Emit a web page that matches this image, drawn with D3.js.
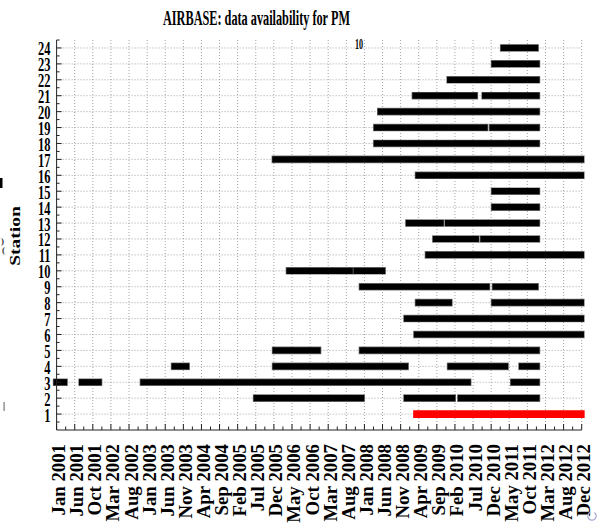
<!DOCTYPE html>
<html><head><meta charset="utf-8">
<script src="https://cdn.jsdelivr.net/npm/d3@7"></script>
<style>body{margin:0;background:#fff}svg{display:block}</style>
</head><body><svg id="c" width="599" height="530"></svg>
<script>
const titleText = "AIRBASE: data availability for PM";
const titleSub = "10";
const yLabelText = "Station";
const stations = [1,2,3,4,5,6,7,8,9,10,11,12,13,14,15,16,17,18,19,20,21,22,23,24];
const xTickLabels = ["Jan 2001","Jun 2001","Oct 2001","Mar 2002","Aug 2002","Jan 2003","Jun 2003","Nov 2003",
  "Apr 2004","Sep 2004","Feb 2005","Jul 2005","Dec 2005","May 2006","Oct 2006","Mar 2007","Aug 2007",
  "Jan 2008","Jun 2008","Nov 2008","Apr 2009","Sep 2009","Feb 2010","Jul 2010","Dec 2010","May 2011",
  "Oct 2011","Mar 2012","Aug 2012","Dec 2012"];
const xTickSpan = ["2001-01-01","2013-01-01"];
const highlightStation = 1;
// [station, first day, last day]
const availability = [
  [24,"2011-03-22","2011-12-09"],
  [23,"2011-01-05","2011-12-20"],
  [22,"2009-12-30","2011-12-20"],
  [21,"2009-03-15","2010-07-20"],
  [21,"2010-10-18","2011-12-20"],
  [20,"2008-05-30","2011-12-20"],
  [19,"2008-04-27","2010-10-13"],
  [19,"2010-12-19","2011-12-20"],
  [18,"2008-04-27","2011-12-20"],
  [17,"2006-01-01","2012-12-25"],
  [16,"2009-04-10","2012-12-25"],
  [15,"2011-01-05","2011-12-20"],
  [14,"2011-01-05","2011-12-20"],
  [13,"2009-01-20","2009-10-11"],
  [13,"2009-12-13","2011-12-20"],
  [12,"2009-09-02","2010-08-01"],
  [12,"2010-10-04","2011-12-20"],
  [11,"2009-07-02","2012-12-25"],
  [10,"2006-04-29","2007-09-15"],
  [10,"2007-11-10","2008-06-10"],
  [9,"2007-12-29","2010-10-29"],
  [9,"2011-01-13","2011-12-09"],
  [8,"2009-04-10","2009-12-19"],
  [8,"2011-01-05","2012-12-25"],
  [7,"2009-01-04","2012-12-25"],
  [6,"2009-03-28","2012-12-25"],
  [5,"2006-01-03","2006-12-19"],
  [5,"2007-12-29","2011-12-20"],
  [4,"2003-09-13","2003-12-18"],
  [4,"2006-01-03","2008-12-19"],
  [4,"2010-01-03","2011-04-02"],
  [4,"2011-08-22","2011-12-20"],
  [3,"2001-01-01","2001-03-04"],
  [3,"2001-08-02","2001-12-17"],
  [3,"2002-12-27","2010-05-25"],
  [3,"2011-06-14","2011-12-20"],
  [2,"2005-07-29","2007-12-18"],
  [2,"2009-01-04","2010-01-16"],
  [2,"2010-03-30","2011-12-20"],
  [1,"2009-03-28","2012-12-25"]
];

const parse = d3.utcParse("%Y-%m-%d");
const svg = d3.select("#c");
const font = "'Liberation Serif','Times New Roman',serif";
const L = 56.6, R = 581.7, T = 40, B = 430;

const t0 = parse(xTickSpan[0]), t1 = parse(xTickSpan[1]);
const x = d3.scaleUtc().domain([t0, t1]).range([L, R]);
const y = d3.scaleLinear().domain([0, 24.5]).range([B, T]);

const n = xTickLabels.length;
const tickDates = xTickLabels.map((_, k) => new Date(+t0 + k * (t1 - t0) / (n - 1)));
const minorDates = tickDates.slice(0, -1).map((d, k) => new Date((+d + +tickDates[k + 1]) / 2));

// fit a text element horizontally to a target width (condensed look of the original)
function squeeze(sel, tx, ty, width) {
  const w = sel.node().getComputedTextLength();
  sel.attr("transform", `translate(${tx},${ty}) scale(${width / w},1)`);
}

// grid
const g = svg.append("g");
g.selectAll("line.hg").data(stations).join("line")
  .attr("x1", L).attr("x2", R).attr("y1", d => y(d)).attr("y2", d => y(d))
  .attr("stroke", "#8a8a8a").attr("stroke-width", 0.8).attr("stroke-dasharray", "1 2");
g.selectAll("line.vg").data(tickDates.slice(1)).join("line")
  .attr("x1", d => x(d)).attr("x2", d => x(d)).attr("y1", T).attr("y2", B)
  .attr("stroke", "#8a8a8a").attr("stroke-width", 0.8).attr("stroke-dasharray", "1 2");

// bars
const bars = svg.append("g");
availability.forEach(([s, a, b]) => {
  const col = s === highlightStation ? "#ff0000" : "#000";
  const edge = s === highlightStation ? "#ff0000" : "#777";
  const x1 = x(parse(a)), x2 = x(parse(b)), yy = y(s);
  bars.append("line").attr("x1", x1).attr("x2", x2).attr("y1", yy).attr("y2", yy)
    .attr("stroke", edge).attr("stroke-width", 7.6).attr("stroke-linecap", "square");
  bars.append("line").attr("x1", x1).attr("x2", x2).attr("y1", yy).attr("y2", yy)
    .attr("stroke", col).attr("stroke-width", 6.2).attr("stroke-linecap", "square");
});

// axes
const ax = svg.append("g").attr("stroke", "#222").attr("stroke-width", 1);
ax.append("line").attr("x1", L).attr("x2", L).attr("y1", T).attr("y2", B);
ax.append("line").attr("x1", L).attr("x2", R).attr("y1", B).attr("y2", B);
ax.selectAll("line.ymaj").data(stations).join("line")
  .attr("x1", L).attr("x2", L + 5).attr("y1", d => y(d)).attr("y2", d => y(d));
ax.selectAll("line.ymin").data(stations.map(s => s - 0.5).concat([24.5])).join("line")
  .attr("x1", L).attr("x2", L + 3).attr("y1", d => y(d)).attr("y2", d => y(d));
ax.selectAll("line.xmaj").data(tickDates).join("line")
  .attr("x1", d => x(d)).attr("x2", d => x(d)).attr("y1", B).attr("y2", B - 6);
ax.selectAll("line.xmin").data(minorDates).join("line")
  .attr("x1", d => x(d)).attr("x2", d => x(d)).attr("y1", B).attr("y2", B - 3.5);

// y tick labels
svg.append("g").selectAll("text").data(stations).join("text")
  .attr("transform", d => `translate(50.5,${y(d) + 7.5}) scale(0.64,1)`)
  .attr("text-anchor", "end").attr("font-family", font).attr("font-weight", "bold")
  .attr("font-size", 19.5).attr("fill", "#000").text(d => d);

// x tick labels
svg.append("g").selectAll("text").data(tickDates).join("text")
  .attr("transform", d => `translate(${x(d) + 8.5},444) rotate(-90)`)
  .attr("text-anchor", "end").attr("font-family", font).attr("font-weight", "bold")
  .attr("font-size", 18.8).attr("fill", "#000").text((d, i) => xTickLabels[i]);

// y label (rotated, glyph height condensed)
svg.append("text").attr("transform", "translate(19.5,236) rotate(-90) scale(1,0.74)")
  .attr("text-anchor", "middle").attr("font-family", font).attr("font-weight", "bold")
  .attr("font-size", 19.5).attr("fill", "#000").text(yLabelText);

// title
const tt = svg.append("text").attr("font-family", font).attr("font-weight", "bold")
  .attr("font-size", 21).attr("fill", "#000").text(titleText);
squeeze(tt, 163, 25, 187);
const ts = svg.append("text").attr("font-family", font).attr("font-weight", "bold")
  .attr("font-size", 14.5).attr("fill", "#000").text(titleSub);
squeeze(ts, 355, 49, 8);

// clipped remnants at the left edge
const rem = svg.append("g").attr("font-family", font).attr("font-weight", "bold").attr("fill", "#000");
rem.append("rect").attr("x", 0).attr("y", 178).attr("width", 2.5).attr("height", 10);
rem.append("text").attr("x", 1).attr("y", 244).attr("font-size", 9).attr("fill", "#333").text(")");
rem.append("text").attr("x", 2).attr("y", 253).attr("font-size", 9).attr("fill", "#333").text("(");
rem.append("rect").attr("x", 3.5).attr("y", 402).attr("width", 1.2).attr("height", 9).attr("fill", "#777");
// small spinner glyph bottom-right
svg.append("path").attr("d", d3.arc()({innerRadius: 3.6, outerRadius: 4.8, startAngle: 0.6, endAngle: 5.9}))
  .attr("transform", "translate(592,516)").attr("fill", "#a9a9d6");
</script></body></html>
